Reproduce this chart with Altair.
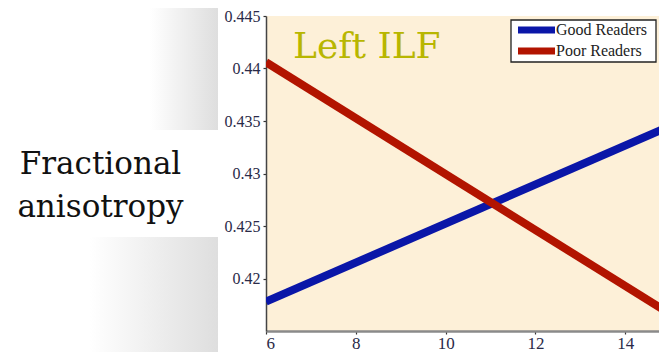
import altair as alt
import pandas as pd

# ---- data ----
age = [6, 15]
good_readers = [0.4178, 0.43453]
poor_readers = [0.4406, 0.41662]
series_names = ["Good Readers", "Poor Readers"]
series_colors = ["#0A16A8", "#B21400"]
y_ticks = [0.42, 0.425, 0.43, 0.435, 0.44, 0.445]
x_ticks = [6, 8, 10, 12, 14]

rows = []
for a, g, p in zip(age, good_readers, poor_readers):
    rows.append({"age": a, "fa": g, "group": series_names[0]})
    rows.append({"age": a, "fa": p, "group": series_names[1]})
df = pd.DataFrame(rows)
legend_df = pd.DataFrame({"group": series_names})

W, H = 393, 315
PEACH = "#FDF0D8"
SERIF = "Liberation Serif"

color_scale = alt.Scale(domain=series_names, range=series_colors)

lines = alt.Chart(df).mark_line(strokeWidth=8, clip=True, strokeCap="butt").encode(
    x=alt.X("age:Q",
            scale=alt.Scale(domain=[6, 14.75], nice=False, zero=False),
            axis=alt.Axis(values=x_ticks, title=None, grid=False,
                          labelFont=SERIF, labelFontSize=17,
                          labelColor="#2a2a48", labelPadding=1,
                          tickSize=3, tickColor="#333", tickWidth=1.2,
                          domainColor="#8a8a8a", domainWidth=2.5)),
    y=alt.Y("fa:Q",
            scale=alt.Scale(domain=[0.415, 0.445], nice=False, zero=False),
            axis=alt.Axis(values=y_ticks, format="~g", grid=False,
                          title=["Fractional", "anisotropy"],
                          titleAngle=0, titleAlign="center",
                          titleBaseline="alphabetic", titleX=-166, titleY=157,
                          titleFont="DejaVu Serif", titleFontSize=31,
                          titleFontWeight="normal", titleColor="#111",
                          titleLineHeight=43,
                          labelFont=SERIF, labelFontSize=16,
                          labelColor="#2a2a48", labelPadding=3,
                          tickSize=3, tickColor="#333", tickWidth=1.2,
                          domainColor="#444", domainWidth=1.5)),
    color=alt.Color("group:N", scale=color_scale, legend=None),
)

# ---- hand-built legend box (MATLAB style) ----
leg_y = alt.Y("group:N", scale=alt.Scale(type="point", domain=series_names,
                                         range=[14, 35], padding=0), axis=None)
legend_box = alt.Chart(pd.DataFrame({"k": [0]})).mark_rect(
    fill="white", stroke="#222", strokeWidth=1.3).encode(
    x=alt.value(245), x2=alt.value(390), y=alt.value(4), y2=alt.value(46))
legend_sym = alt.Chart(legend_df).mark_rule(strokeWidth=7).encode(
    x=alt.value(252), x2=alt.value(289), y=leg_y,
    color=alt.Color("group:N", scale=color_scale, legend=None))
legend_txt = alt.Chart(legend_df).mark_text(
    font=SERIF, fontSize=16, color="#222", align="left", baseline="middle").encode(
    x=alt.value(290), y=leg_y, text="group:N")

deco_df = pd.DataFrame({"k": [0]})
shade = alt.LinearGradient(gradient="linear",
                           stops=[alt.GradientStop(color="#ffffff", offset=0),
                                  alt.GradientStop(color="#dedede", offset=1)],
                           x1=0, x2=1, y1=0, y2=0)
shade_top = alt.Chart(deco_df).mark_rect(color=shade, clip=False).encode(
    x=alt.value(-116), x2=alt.value(-48), y=alt.value(-8), y2=alt.value(114))
shade_bot = alt.Chart(deco_df).mark_rect(color=shade, clip=False).encode(
    x=alt.value(-176), x2=alt.value(-48), y=alt.value(221), y2=alt.value(345))

label = alt.Chart(deco_df).mark_text(
    text="Left ILF", font="DejaVu Serif", fontSize=36, color="#B8B600",
    align="left", baseline="alphabetic").encode(
    x=alt.value(27), y=alt.value(42))

chart = alt.layer(shade_top, shade_bot, lines, label,
                  legend_box, legend_sym, legend_txt).resolve_scale(
    y="independent").properties(
    width=W, height=H,
    autosize=alt.AutoSizeParams(type="none"),
    padding={"left": 258, "top": 8, "right": 0, "bottom": 21},
    background="white",
).configure_view(fill=PEACH, stroke=None)

chart.save("out.html", embed_options={"renderer": "svg", "actions": False})
